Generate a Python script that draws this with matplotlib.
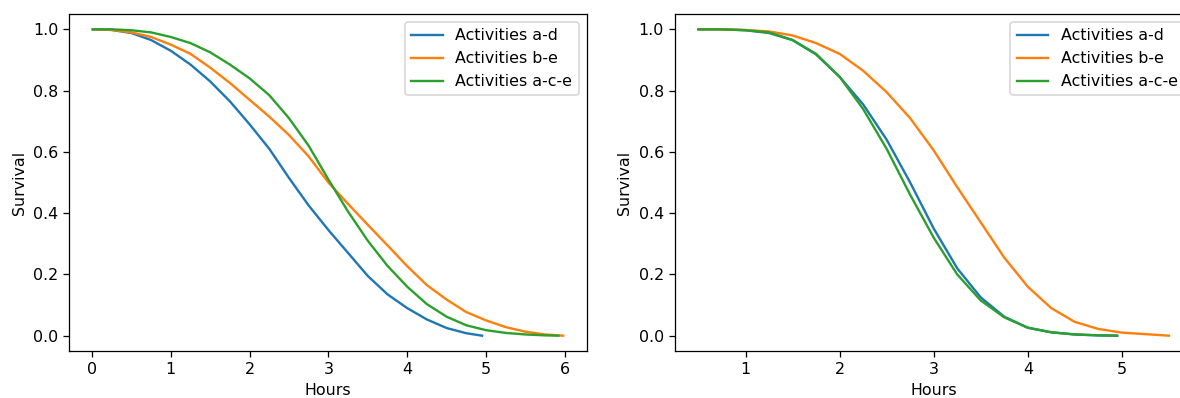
import matplotlib
matplotlib.use("Agg")
import matplotlib.pyplot as plt

labels = ["Activities a-d", "Activities b-e", "Activities a-c-e"]

# left panel
l_ad_x = [0.01, 0.25, 0.5, 0.75, 1.0, 1.25, 1.5, 1.75, 2.0, 2.25, 2.5, 2.75, 3.0,
          3.25, 3.5, 3.75, 4.0, 4.25, 4.5, 4.75, 4.95]
l_ad_y = [1.0, 0.998, 0.988, 0.965, 0.93, 0.885, 0.83, 0.765, 0.69, 0.61, 0.515,
          0.425, 0.345, 0.27, 0.195, 0.135, 0.09, 0.053, 0.025, 0.008, 0.0]
l_be_x = [0.01, 0.25, 0.5, 0.75, 1.0, 1.25, 1.5, 1.75, 2.0, 2.25, 2.5, 2.75, 3.0,
          3.25, 3.5, 3.75, 4.0, 4.25, 4.5, 4.75, 5.0, 5.25, 5.5, 5.75, 5.98]
l_be_y = [1.0, 0.998, 0.99, 0.975, 0.95, 0.92, 0.875, 0.825, 0.77, 0.715, 0.655,
          0.585, 0.5, 0.43, 0.362, 0.295, 0.227, 0.165, 0.118, 0.077, 0.05,
          0.028, 0.013, 0.004, 0.0]
l_ace_x = [0.01, 0.25, 0.5, 0.75, 1.0, 1.25, 1.5, 1.75, 2.0, 2.25, 2.5, 2.75, 3.0,
           3.25, 3.5, 3.75, 4.0, 4.25, 4.5, 4.75, 5.0, 5.25, 5.5, 5.75, 5.92]
l_ace_y = [1.0, 1.0, 0.997, 0.99, 0.975, 0.955, 0.925, 0.885, 0.84, 0.785, 0.71,
           0.62, 0.51, 0.405, 0.31, 0.228, 0.16, 0.103, 0.062, 0.034, 0.018,
           0.009, 0.004, 0.001, 0.0]

# right panel
r_ad_x = [0.5, 0.75, 1.0, 1.25, 1.5, 1.75, 2.0, 2.25, 2.5, 2.75, 3.0, 3.25, 3.5,
          3.75, 4.0, 4.25, 4.5, 4.75, 4.95]
r_ad_y = [1.0, 1.0, 0.997, 0.988, 0.965, 0.918, 0.845, 0.755, 0.64, 0.50, 0.35,
          0.22, 0.125, 0.062, 0.026, 0.011, 0.004, 0.001, 0.0]
r_be_x = [0.5, 0.75, 1.0, 1.25, 1.5, 1.75, 2.0, 2.25, 2.5, 2.75, 3.0, 3.25, 3.5,
          3.75, 4.0, 4.25, 4.5, 4.75, 5.0, 5.25, 5.5]
r_be_y = [1.0, 1.0, 0.998, 0.993, 0.98, 0.955, 0.92, 0.865, 0.795, 0.71, 0.605,
          0.485, 0.37, 0.255, 0.16, 0.09, 0.045, 0.022, 0.01, 0.005, 0.0]
r_ace_x = [0.5, 0.75, 1.0, 1.25, 1.5, 1.75, 2.0, 2.25, 2.5, 2.75, 3.0, 3.25, 3.5,
           3.75, 4.0, 4.25, 4.5, 4.75, 4.95]
r_ace_y = [1.0, 1.0, 0.997, 0.99, 0.965, 0.92, 0.845, 0.74, 0.61, 0.46, 0.32,
           0.20, 0.115, 0.06, 0.026, 0.011, 0.004, 0.001, 0.0]

# the source image looks like a notebook figure rendered a bit larger
DPI = 114
fig = plt.figure(figsize=(1180 / DPI, 398 / DPI), dpi=DPI)
ax1 = fig.add_axes([0.0587, 0.1181, 0.4385, 0.8467])
ax2 = fig.add_axes([0.572, 0.1181, 0.4385, 0.8467])

panels = [
    (ax1, [(l_ad_x, l_ad_y), (l_be_x, l_be_y), (l_ace_x, l_ace_y)]),
    (ax2, [(r_ad_x, r_ad_y), (r_be_x, r_be_y), (r_ace_x, r_ace_y)]),
]

for ax, series in panels:
    for (x, y), lab in zip(series, labels):
        ax.plot(x, y, label=lab)
    ax.set_xlabel("Hours")
    ax.set_ylabel("Survival")
    ax.legend(loc="upper right")

fig.savefig("out.png", dpi=DPI)
